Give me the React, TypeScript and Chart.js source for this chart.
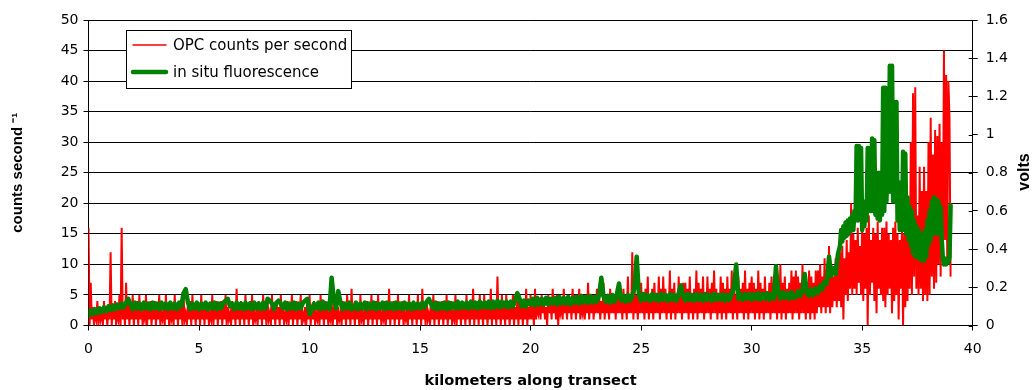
import React, { useEffect, useRef } from "react";
import { Chart, registerables } from "chart.js";

Chart.register(...registerables);

// distance between samples along the transect (km)
const opcSpacingKm = 0.05;
const fluorSpacingKm = 0.1;
const fluorTailStartKm = 34;
const fluorTailSpacingKm = 0.05;

// OPC counts per second, one value per 0.05 km (0 .. 39.0 km), one row per km
const opcCounts = [
  16, 0, 7, 1, 3, 0, 2, 1, 4, 0, 3, 1, 2, 0, 4, 1, 3, 0, 2, 1,
  12, 0, 3, 1, 4, 0, 2, 1, 5, 0, 16, 1, 3, 0, 7, 1, 4, 0, 3, 1,
  5, 0, 3, 1, 4, 0, 5, 1, 3, 0, 2, 1, 5, 0, 3, 1, 4, 0, 3, 1,
  4, 0, 3, 1, 5, 0, 2, 1, 3, 0, 5, 1, 3, 0, 4, 1, 2, 0, 5, 1,
  3, 0, 4, 1, 3, 0, 5, 1, 2, 0, 3, 1, 4, 0, 5, 1, 3, 0, 4, 1,
  3, 0, 5, 1, 3, 0, 4, 1, 3, 0, 2, 1, 5, 0, 3, 1, 4, 0, 3, 1,
  4, 0, 3, 1, 5, 0, 3, 1, 2, 0, 4, 1, 3, 0, 6, 1, 3, 0, 4, 1,
  3, 0, 5, 1, 3, 0, 4, 1, 5, 0, 3, 1, 2, 0, 4, 1, 3, 0, 5, 1,
  3, 0, 4, 1, 2, 0, 5, 1, 3, 0, 4, 1, 3, 0, 5, 1, 3, 0, 2, 1,
  4, 0, 3, 1, 5, 0, 3, 1, 4, 0, 3, 1, 5, 0, 2, 1, 3, 0, 4, 1,
  5, 0, 3, 1, 4, 0, 2, 1, 3, 0, 5, 1, 3, 0, 4, 1, 3, 0, 2, 1,
  4, 0, 3, 1, 5, 0, 3, 1, 2, 0, 4, 1, 3, 0, 5, 1, 3, 0, 6, 1,
  3, 0, 4, 1, 3, 0, 5, 1, 2, 0, 3, 1, 4, 0, 3, 1, 5, 0, 3, 1,
  4, 0, 5, 1, 3, 0, 2, 1, 4, 0, 3, 1, 6, 0, 3, 1, 4, 0, 3, 1,
  5, 0, 3, 1, 4, 0, 2, 1, 3, 0, 5, 1, 3, 0, 4, 1, 3, 0, 5, 1,
  3, 0, 6, 1, 3, 0, 4, 1, 2, 0, 3, 1, 5, 0, 3, 1, 4, 0, 3, 1,
  4, 0, 3, 1, 5, 0, 3, 1, 4, 0, 2, 1, 5, 0, 3, 1, 3, 0, 4, 1,
  3, 0, 5, 1, 3, 0, 4, 1, 6, 0, 3, 1, 4, 0, 5, 1, 3, 0, 5, 1,
  4, 0, 3, 1, 6, 0, 4, 1, 3, 0, 8, 1, 4, 0, 5, 1, 3, 0, 5, 1,
  4, 0, 3, 1, 5, 0, 3, 1, 4, 0, 5, 1, 3, 0, 4, 1, 6, 0, 3, 1,
  5, 1, 4, 0, 6, 1, 3, 2, 4, 1, 5, 2, 4, 1, 3, 0, 5, 2, 4, 1,
  6, 2, 4, 1, 5, 0, 4, 2, 3, 1, 6, 2, 4, 1, 5, 2, 4, 1, 6, 2,
  5, 1, 4, 2, 6, 1, 3, 2, 5, 1, 4, 2, 7, 1, 4, 2, 5, 1, 4, 2,
  6, 2, 5, 1, 4, 2, 7, 1, 5, 2, 4, 1, 6, 2, 4, 2, 5, 1, 6, 2,
  7, 2, 5, 1, 6, 2, 4, 1, 8, 2, 5, 2, 12, 1, 6, 2, 5, 1, 6, 2,
  7, 2, 5, 1, 6, 2, 8, 1, 5, 2, 6, 1, 7, 2, 5, 2, 8, 1, 6, 2,
  8, 2, 6, 1, 5, 2, 9, 1, 6, 2, 7, 1, 5, 2, 8, 2, 6, 1, 7, 2,
  7, 2, 6, 1, 8, 2, 5, 1, 6, 2, 9, 1, 7, 2, 6, 2, 8, 1, 5, 2,
  8, 2, 6, 1, 7, 2, 9, 2, 6, 1, 5, 2, 8, 1, 7, 2, 6, 1, 8, 2,
  6, 2, 9, 1, 7, 2, 5, 1, 8, 2, 6, 2, 7, 1, 9, 2, 6, 1, 7, 2,
  8, 2, 7, 1, 6, 2, 9, 1, 7, 2, 6, 1, 8, 2, 5, 2, 7, 1, 8, 2,
  7, 2, 8, 1, 6, 2, 10, 1, 7, 2, 8, 1, 6, 2, 7, 2, 9, 1, 8, 2,
  9, 2, 8, 1, 7, 2, 10, 2, 8, 1, 7, 2, 9, 1, 8, 2, 7, 1, 9, 2,
  9, 3, 10, 2, 8, 3, 11, 2, 9, 3, 13, 2, 10, 3, 8, 4, 11, 3, 10, 4,
  12, 3, 13, 1, 11, 5, 14, 4, 12, 6, 20, 5, 15, 6, 14, 5, 16, 7, 13, 5,
  17, 4, 15, 6, 16, 0, 18, 5, 14, 7, 16, 4, 15, 2, 17, 6, 14, 5, 16, 4,
  16, 3, 17, 5, 15, 6, 14, 2, 16, 4, 17, 5, 15, 1, 14, 6, 16, 0, 15, 3,
  17, 4, 16, 6, 30, 5, 38, 8, 39, 6, 18, 5, 26, 6, 22, 4, 26, 5, 22, 4,
  30, 5, 34, 8, 28, 6, 32, 7, 31, 10, 33, 8, 30, 12, 45, 14, 41, 10, 40, 34,
  8,
];

// in situ fluorescence (volts), one value per 0.1 km (0 .. 33.9 km), one row per km
const fluorescenceVolts = [
  0.05, 0.08, 0.06, 0.085, 0.065, 0.09, 0.07, 0.095, 0.075, 0.1,
  0.08, 0.105, 0.085, 0.11, 0.09, 0.115, 0.095, 0.12, 0.14, 0.11,
  0.085, 0.12, 0.09, 0.115, 0.085, 0.12, 0.09, 0.115, 0.085, 0.12,
  0.09, 0.115, 0.085, 0.12, 0.09, 0.115, 0.085, 0.12, 0.09, 0.115,
  0.085, 0.12, 0.1, 0.17, 0.19, 0.12, 0.085, 0.115, 0.09, 0.12,
  0.085, 0.115, 0.09, 0.12, 0.085, 0.115, 0.09, 0.12, 0.085, 0.115,
  0.09, 0.12, 0.13, 0.14, 0.1, 0.115, 0.085, 0.12, 0.09, 0.115,
  0.085, 0.12, 0.09, 0.115, 0.085, 0.12, 0.09, 0.115, 0.085, 0.12,
  0.09, 0.14, 0.13, 0.115, 0.085, 0.12, 0.13, 0.115, 0.09, 0.12,
  0.085, 0.115, 0.09, 0.12, 0.085, 0.115, 0.09, 0.12, 0.13, 0.14,
  0.06, 0.08, 0.115, 0.09, 0.12, 0.085, 0.125, 0.09, 0.115, 0.085,
  0.25, 0.13, 0.09, 0.18, 0.12, 0.085, 0.115, 0.09, 0.12, 0.085,
  0.09, 0.12, 0.085, 0.115, 0.09, 0.12, 0.085, 0.115, 0.09, 0.12,
  0.085, 0.115, 0.09, 0.12, 0.085, 0.12, 0.09, 0.115, 0.085, 0.12,
  0.09, 0.115, 0.085, 0.12, 0.09, 0.115, 0.085, 0.12, 0.09, 0.115,
  0.09, 0.12, 0.095, 0.125, 0.14, 0.11, 0.09, 0.12, 0.085, 0.115,
  0.09, 0.12, 0.085, 0.12, 0.09, 0.115, 0.09, 0.125, 0.09, 0.12,
  0.095, 0.12, 0.09, 0.125, 0.095, 0.12, 0.09, 0.125, 0.095, 0.12,
  0.095, 0.125, 0.09, 0.125, 0.095, 0.13, 0.095, 0.125, 0.1, 0.125,
  0.095, 0.125, 0.1, 0.13, 0.17, 0.14, 0.1, 0.13, 0.1, 0.13,
  0.11, 0.14, 0.105, 0.145, 0.11, 0.14, 0.11, 0.145, 0.11, 0.14,
  0.115, 0.145, 0.11, 0.15, 0.115, 0.145, 0.115, 0.15, 0.11, 0.145,
  0.12, 0.15, 0.115, 0.155, 0.12, 0.15, 0.12, 0.155, 0.12, 0.15,
  0.125, 0.16, 0.25, 0.15, 0.125, 0.155, 0.12, 0.16, 0.125, 0.16,
  0.22, 0.13, 0.155, 0.125, 0.16, 0.13, 0.155, 0.2, 0.36, 0.16,
  0.13, 0.165, 0.135, 0.16, 0.13, 0.165, 0.135, 0.16, 0.13, 0.165,
  0.135, 0.16, 0.13, 0.165, 0.135, 0.16, 0.13, 0.17, 0.21, 0.155,
  0.13, 0.165, 0.135, 0.16, 0.13, 0.165, 0.135, 0.16, 0.13, 0.165,
  0.135, 0.16, 0.13, 0.165, 0.135, 0.16, 0.135, 0.165, 0.13, 0.16,
  0.135, 0.165, 0.2, 0.32, 0.14, 0.165, 0.135, 0.165, 0.14, 0.165,
  0.135, 0.165, 0.14, 0.17, 0.135, 0.165, 0.14, 0.17, 0.135, 0.165,
  0.14, 0.31, 0.17, 0.14, 0.175, 0.145, 0.17, 0.14, 0.175, 0.145,
  0.15, 0.18, 0.155, 0.185, 0.27, 0.17, 0.155, 0.19, 0.16, 0.195,
  0.17, 0.21, 0.19, 0.23, 0.22, 0.36, 0.26, 0.3, 0.27, 0.37,
];

// in situ fluorescence (volts) for the bloom, one value per 0.05 km (34.0 .. 39.0 km)
const fluorescenceTailVolts = [
  0.42, 0.5, 0.44, 0.52, 0.46, 0.54, 0.47, 0.55, 0.48, 0.56,
  0.5, 0.58, 0.5, 0.6, 0.55, 0.94, 0.55, 0.94, 0.6, 0.93,
  0.5, 0.62, 0.52, 0.65, 0.55, 0.93, 0.6, 0.93, 0.6, 0.98,
  0.6, 0.97, 0.58, 0.78, 0.56, 0.8, 0.55, 0.76, 0.58, 1.245,
  0.6, 1.245, 0.65, 1.09, 0.7, 1.36, 0.7, 1.36, 0.65, 1.17,
  0.65, 1.17, 0.55, 0.75, 0.5, 0.72, 0.5, 0.91, 0.5, 0.9,
  0.48, 0.67, 0.45, 0.62, 0.42, 0.6, 0.38, 0.55, 0.36, 0.52,
  0.36, 0.5, 0.35, 0.48, 0.34, 0.45, 0.34, 0.5, 0.36, 0.55,
  0.42, 0.6, 0.45, 0.65, 0.48, 0.67, 0.5, 0.66, 0.48, 0.65,
  0.5, 0.62, 0.45, 0.35, 0.32, 0.35, 0.32, 0.35, 0.33, 0.36,
  0.63,
];

const seriesLabels = ["OPC counts per second", "in situ fluorescence"];
const seriesColors = ["#ff0000", "#008000"];
const xTitle = "kilometers along transect";
const yLeftTitle = "counts second \u207B\u00B9";
const yRightTitle = "volts";

const TICK_FONT = { family: "'DejaVu Sans', sans-serif", size: 14 };
const X_TITLE_FONT = { family: "'DejaVu Sans', sans-serif", size: 14.6, weight: "bold" as const };
const Y_TITLE_FONT = { family: "'Liberation Sans', Arial, sans-serif", size: 15, weight: "bold" as const };

const boxLegend = {
  id: "boxLegend",
  afterDatasetsDraw(chart: any) {
    const ctx = chart.ctx;
    ctx.save();
    const x0 = 126.5, y0 = 30.5, w = 225, h = 58;
    ctx.fillStyle = "#ffffff";
    ctx.fillRect(x0, y0, w, h);
    ctx.strokeStyle = "#000000";
    ctx.lineWidth = 1;
    ctx.strokeRect(x0, y0, w, h);
    const rows = [45, 72];
    const widths = [1.5, 4.5];
    chart.data.datasets.forEach((ds: any, i: number) => {
      const y = rows[i];
      ctx.beginPath();
      ctx.strokeStyle = ds.borderColor;
      ctx.lineWidth = widths[i];
      ctx.lineCap = "round";
      ctx.moveTo(133, y);
      ctx.lineTo(166, y);
      ctx.stroke();
      ctx.fillStyle = "#000";
      ctx.font = "15px 'DejaVu Sans', sans-serif";
      ctx.textBaseline = "middle";
      ctx.textAlign = "left";
      ctx.fillText(ds.label, 173, y + 1);
    });
    ctx.restore();
  },
  afterDraw(chart: any) {
    const ctx = chart.ctx;
    const s = chart.scales.y1;
    ctx.save();
    // inner half of the right-axis tick marks
    ctx.strokeStyle = "#000";
    ctx.lineWidth = 1;
    s.ticks.forEach((t: any) => {
      const y = Math.round(s.getPixelForValue(t.value)) + 0.5;
      ctx.beginPath();
      ctx.moveTo(s.left - 4, y);
      ctx.lineTo(s.left, y);
      ctx.stroke();
    });
    // right axis title (reads bottom to top)
    ctx.translate(1025, 172);
    ctx.rotate(-Math.PI / 2);
    ctx.font = "bold 16px 'Liberation Sans', Arial, sans-serif";
    ctx.fillStyle = "#000";
    ctx.textAlign = "center";
    ctx.textBaseline = "middle";
    ctx.fillText(yRightTitle, 0, 0);
    ctx.restore();
  },
};

export default function App() {
  const ref = useRef<HTMLCanvasElement | null>(null);

  useEffect(() => {
    document.body.style.margin = "0";
    const canvas = ref.current;
    if (!canvas) return;
    const fluorPoints = [
      ...fluorescenceVolts.map((v, i) => ({ x: i * fluorSpacingKm, y: v })),
      ...fluorescenceTailVolts.map((v, i) => ({ x: fluorTailStartKm + i * fluorTailSpacingKm, y: v })),
    ];
    const chart = new Chart(canvas, {
      type: "line",
      data: {
        datasets: [
          {
            label: seriesLabels[0],
            data: opcCounts.map((v, i) => ({ x: i * opcSpacingKm, y: v })),
            borderColor: seriesColors[0],
            borderWidth: 2,
            yAxisID: "y",
            order: 2,
          },
          {
            label: seriesLabels[1],
            data: fluorPoints,
            borderColor: seriesColors[1],
            borderWidth: 4.5,
            borderJoinStyle: "round",
            borderCapStyle: "round",
            yAxisID: "y1",
            order: 1,
          },
        ],
      },
      options: {
        responsive: false,
        animation: false,
        devicePixelRatio: 1,
        layout: { padding: { top: 20, left: 0, right: 0, bottom: 0 } },
        plugins: { legend: { display: false }, tooltip: { enabled: false } },
        elements: { point: { radius: 0 }, line: { tension: 0 } },
        scales: {
          x: {
            type: "linear",
            min: 0,
            max: 40,
            ticks: { stepSize: 5, padding: 10, font: TICK_FONT, color: "#000", maxRotation: 0 },
            grid: { drawOnChartArea: false, tickLength: 5, color: "#000" },
            border: { color: "#000" },
            title: { display: true, text: xTitle, font: X_TITLE_FONT, color: "#000", padding: { top: 0, bottom: 0 } },
            afterFit: (s: any) => { s.height = 64.5; },
          },
          y: {
            position: "left",
            min: 0,
            max: 50,
            ticks: { stepSize: 5, padding: 5, font: TICK_FONT, color: "#000" },
            grid: { color: "#000", tickLength: 5 },
            border: { color: "#000" },
            title: { display: true, text: yLeftTitle, font: Y_TITLE_FONT, color: "#000", padding: { top: 9, bottom: 0 } },
            afterFit: (s: any) => { s.width = 88.5; },
          },
          y1: {
            position: "right",
            min: 0,
            max: 1.6,
            ticks: {
              stepSize: 0.2,
              padding: 8,
              font: TICK_FONT,
              color: "#000",
              callback: (v: any) => String(Math.round(Number(v) * 10) / 10),
            },
            grid: { drawOnChartArea: false, tickLength: 5, color: "#000" },
            border: { color: "#000" },
            afterFit: (s: any) => { s.width = 59.3; },
          },
        },
      },
      plugins: [boxLegend],
    });
    return () => chart.destroy();
  }, []);

  return (
    <div style={{ width: 1032, height: 390 }}>
      <canvas ref={ref} width={1032} height={390} style={{ display: "block" }} />
    </div>
  );
}
